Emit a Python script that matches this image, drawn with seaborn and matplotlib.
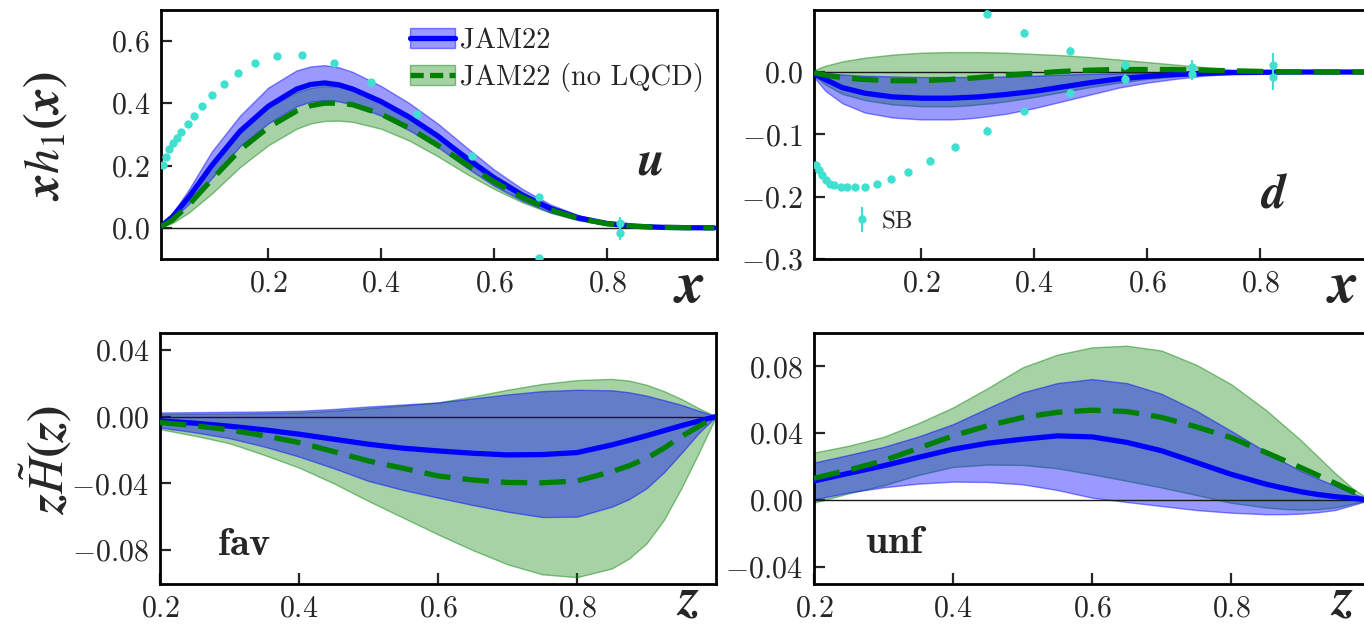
import matplotlib
matplotlib.use('Agg')
import matplotlib.pyplot as plt
import seaborn as sns
from matplotlib.patches import Patch
from matplotlib.lines import Line2D
from matplotlib.ticker import FuncFormatter

# ---- x grid (top panels) ----
x_grid = [0.01, 0.03, 0.06, 0.10, 0.15, 0.20, 0.25, 0.275, 0.30, 0.325, 0.35, 0.40, 0.45,
          0.50, 0.55, 0.60, 0.65, 0.70, 0.75, 0.80, 0.85, 0.90, 0.95, 0.99]

# u quark, JAM22
u_mid = [0.005, 0.035, 0.100, 0.200, 0.310, 0.390, 0.445, 0.460, 0.465, 0.459, 0.445, 0.405, 0.355,
         0.295, 0.225, 0.160, 0.105, 0.062, 0.032, 0.014, 0.005, 0.0015, 0.0003, 0.0]
u_hi = [0.007, 0.045, 0.125, 0.245, 0.360, 0.450, 0.505, 0.518, 0.522, 0.515, 0.500, 0.455, 0.400,
        0.335, 0.260, 0.187, 0.125, 0.075, 0.040, 0.018, 0.007, 0.002, 0.0005, 0.0]
u_lo = [0.003, 0.027, 0.078, 0.160, 0.262, 0.335, 0.390, 0.405, 0.410, 0.406, 0.395, 0.360, 0.313,
        0.260, 0.195, 0.135, 0.087, 0.050, 0.025, 0.010, 0.003, 0.001, 0.0001, 0.0]
# u quark, no LQCD
u_mid_nl = [0.004, 0.025, 0.075, 0.155, 0.250, 0.322, 0.375, 0.392, 0.400, 0.400, 0.395, 0.365, 0.320,
            0.265, 0.205, 0.148, 0.098, 0.058, 0.030, 0.013, 0.005, 0.0015, 0.0003, 0.0]
u_hi_nl = [0.006, 0.035, 0.100, 0.200, 0.305, 0.385, 0.435, 0.449, 0.455, 0.453, 0.445, 0.410, 0.360,
           0.300, 0.235, 0.170, 0.115, 0.068, 0.036, 0.016, 0.006, 0.002, 0.0004, 0.0]
u_lo_nl = [0.002, 0.015, 0.050, 0.110, 0.195, 0.265, 0.318, 0.335, 0.343, 0.344, 0.340, 0.318, 0.280,
           0.230, 0.175, 0.125, 0.082, 0.048, 0.024, 0.010, 0.003, 0.001, 0.0001, 0.0]

# d quark, JAM22
d_mid = [-0.003, -0.012, -0.025, -0.034, -0.040, -0.042, -0.042, -0.041, -0.040, -0.038, -0.036, -0.031, -0.024,
         -0.017, -0.011, -0.007, -0.004, -0.002, -0.001, -0.0005, 0.0, 0.0, 0.0, 0.0]
d_hi = [0.0, -0.002, -0.004, -0.006, -0.007, -0.008, -0.008, -0.008, -0.008, -0.0075, -0.007, -0.006, -0.004,
        -0.003, -0.002, -0.001, -0.0005, 0.0, 0.0, 0.0, 0.0, 0.0, 0.0, 0.0]
d_lo = [-0.008, -0.030, -0.050, -0.065, -0.073, -0.076, -0.076, -0.075, -0.073, -0.070, -0.067, -0.058, -0.047,
        -0.036, -0.025, -0.017, -0.011, -0.006, -0.003, -0.0012, -0.0004, -0.0001, 0.0, 0.0]
# d quark, no LQCD
d_mid_nl = [-0.001, -0.005, -0.009, -0.012, -0.014, -0.014, -0.012, -0.0105, -0.009, -0.007, -0.005, -0.002, 0.001,
            0.003, 0.004, 0.004, 0.004, 0.003, 0.002, 0.001, 0.0003, 0.0, 0.0, 0.0]
d_hi_nl = [0.003, 0.010, 0.017, 0.023, 0.028, 0.031, 0.032, 0.032, 0.032, 0.0315, 0.031, 0.029, 0.027,
           0.024, 0.020, 0.016, 0.012, 0.008, 0.004, 0.0015, 0.0005, 0.0001, 0.0, 0.0]
d_lo_nl = [-0.005, -0.020, -0.035, -0.045, -0.052, -0.055, -0.055, -0.054, -0.052, -0.050, -0.047, -0.040, -0.032,
           -0.024, -0.017, -0.011, -0.007, -0.004, -0.002, -0.001, 0.0, 0.0, 0.0, 0.0]

# SB points
sb_x = [0.013, 0.018, 0.024, 0.031, 0.038, 0.046, 0.057, 0.069, 0.083, 0.100, 0.122,
        0.147, 0.177, 0.215, 0.260, 0.316, 0.382, 0.464, 0.561, 0.680, 0.823]
sb_u = [0.201, 0.228, 0.253, 0.271, 0.287, 0.308, 0.332, 0.360, 0.392, 0.426, 0.461,
        0.498, 0.529, 0.551, 0.554, 0.530, 0.468, 0.365, 0.231, 0.098, 0.014]
sb_d = [-0.149, -0.157, -0.166, -0.174, -0.179, -0.182, -0.184, -0.185, -0.185, -0.184, -0.179,
        -0.172, -0.160, -0.142, -0.121, -0.094, -0.063, -0.034, -0.011, -0.003, -0.0085]
sb_err = [0.003, 0.003, 0.003, 0.003, 0.003, 0.003, 0.003, 0.003, 0.003, 0.004, 0.004,
          0.004, 0.004, 0.005, 0.005, 0.006, 0.006, 0.006, 0.008, 0.010, 0.020]
sb_u2_x = [0.680, 0.823]
sb_u2 = [-0.098, -0.018]
sb_d2_x = [0.316, 0.382, 0.464, 0.561, 0.680, 0.823]
sb_d2 = [0.093, 0.063, 0.034, 0.012, 0.0087, 0.011]
sb_d2_err = [0.006, 0.006, 0.006, 0.008, 0.010, 0.020]

# ---- z grid (bottom panels) ----
z_grid = [0.20, 0.25, 0.30, 0.35, 0.40, 0.45, 0.50, 0.55, 0.60, 0.65, 0.70,
          0.75, 0.80, 0.85, 0.875, 0.90, 0.925, 0.95, 0.975, 1.0]

fav_mid = [-0.0026, -0.004, -0.0058, -0.008, -0.0106, -0.0136, -0.0166, -0.019, -0.0206, -0.022, -0.023,
           -0.0228, -0.0216, -0.017, -0.0143, -0.0115, -0.0085, -0.0055, -0.0028, 0.0]
fav_hi = [0.0024, 0.0026, 0.0028, 0.003, 0.0034, 0.0045, 0.006, 0.0072, 0.0084, 0.0108, 0.0132,
          0.0152, 0.016, 0.0157, 0.0145, 0.0125, 0.0098, 0.007, 0.0035, 0.0]
fav_lo = [-0.0066, -0.0095, -0.013, -0.018, -0.024, -0.031, -0.0386, -0.044, -0.0486, -0.053, -0.057,
          -0.0602, -0.060, -0.054, -0.0495, -0.043, -0.0335, -0.022, -0.010, 0.0]
fav_mid_nl = [-0.0036, -0.0055, -0.008, -0.0115, -0.0156, -0.021, -0.0266, -0.031, -0.0356, -0.038, -0.0395,
              -0.0397, -0.0386, -0.033, -0.0295, -0.025, -0.019, -0.012, -0.006, 0.0]
fav_hi_nl = [0.0014, 0.0016, 0.0018, 0.002, 0.0024, 0.0035, 0.005, 0.0066, 0.0084, 0.012, 0.016,
             0.0195, 0.0218, 0.0225, 0.0215, 0.019, 0.0152, 0.0105, 0.005, 0.0]
fav_lo_nl = [-0.0076, -0.0115, -0.016, -0.023, -0.0306, -0.040, -0.0506, -0.0606, -0.0706, -0.080, -0.0885,
             -0.0945, -0.0962, -0.091, -0.085, -0.076, -0.062, -0.043, -0.022, 0.0]

unf_mid = [0.0114, 0.016, 0.0205, 0.0255, 0.0304, 0.034, 0.0364, 0.0384, 0.0378, 0.0345, 0.0295,
           0.0225, 0.0154, 0.0095, 0.0072, 0.005, 0.0033, 0.002, 0.001, 0.0]
unf_hi = [0.0224, 0.027, 0.0318, 0.038, 0.0454, 0.055, 0.0644, 0.070, 0.0724, 0.070, 0.0636,
          0.0535, 0.0414, 0.029, 0.023, 0.0175, 0.0128, 0.0085, 0.004, 0.0]
unf_lo = [0.0004, 0.0045, 0.0076, 0.0098, 0.011, 0.0108, 0.0094, 0.006, 0.0014, -0.0012, -0.0036,
          -0.006, -0.0076, -0.0085, -0.0085, -0.0082, -0.0073, -0.006, -0.003, 0.0]
unf_mid_nl = [0.013, 0.018, 0.0235, 0.031, 0.0384, 0.0445, 0.0494, 0.0525, 0.0538, 0.053, 0.0495,
              0.0438, 0.0374, 0.0285, 0.024, 0.0195, 0.0148, 0.010, 0.005, 0.0]
unf_hi_nl = [0.0284, 0.0325, 0.0378, 0.046, 0.0554, 0.067, 0.0794, 0.087, 0.0914, 0.0924, 0.0895,
             0.081, 0.0694, 0.054, 0.045, 0.036, 0.026, 0.016, 0.007, 0.0]
unf_lo_nl = [-0.0016, 0.004, 0.0088, 0.015, 0.0198, 0.0212, 0.021, 0.019, 0.0154, 0.0115, 0.0075,
             0.003, -0.0016, -0.0045, -0.0053, -0.0058, -0.0055, -0.0045, -0.0022, 0.0]

sns.set_theme(style='ticks')
plt.rcParams['font.family'] = ['cmr10', 'DejaVu Serif']
plt.rcParams['mathtext.fontset'] = 'cm'
plt.rcParams['axes.formatter.use_mathtext'] = True
plt.rcParams['axes.unicode_minus'] = True

BLUE = '#0000ff'
GREEN = '#008000'
SB_COL = '#40e0d0'
DASH = (0, (5, 2.3))

fig = plt.figure(figsize=(13.64, 6.24), dpi=100)
W = 556 / 1364
ax_u = fig.add_axes([161 / 1364, 1 - 259 / 624, W, 249.3 / 624])
ax_d = fig.add_axes([814 / 1364, 1 - 259 / 624, W, 249.3 / 624])
ax_f = fig.add_axes([160 / 1364, 1 - 583.5 / 624, W, 250.5 / 624])
ax_n = fig.add_axes([814 / 1364, 1 - 583.5 / 624, W, 250.5 / 624])


def draw_bands(ax, xg, mid, lo, hi, mid_nl, lo_nl, hi_nl):
    ax.fill_between(xg, lo_nl, hi_nl, facecolor=(0, 0.5, 0, 0.35),
                    edgecolor=(0, 0.5, 0, 0.45), lw=1.0, zorder=1)
    ax.fill_between(xg, lo, hi, facecolor=(0, 0, 1, 0.4),
                    edgecolor=(0, 0, 1, 0.45), lw=1.0, zorder=1.1)
    ax.axhline(0, color='k', lw=1.0, zorder=1.5)
    sns.lineplot(x=xg, y=mid, ax=ax, color=BLUE, lw=3.8, zorder=3)
    sns.lineplot(x=xg, y=mid_nl, ax=ax, color=GREEN, lw=3.8, linestyle=DASH, zorder=3.1)


def style(ax, xlim, ylim, yticks, fmt):
    ax.set_xlim(*xlim)
    ax.set_ylim(*ylim)
    ax.set_xticks([0.2, 0.4, 0.6, 0.8])
    ax.set_yticks(yticks)
    ax.xaxis.set_major_formatter(FuncFormatter(lambda v, p: '$%.1f$' % v))
    ax.yaxis.set_major_formatter(FuncFormatter(lambda v, p: '$' + (fmt % v).replace('-0.00', '0.00') + '$'))
    ax.tick_params(direction='in', length=8, width=1.6, labelsize=21.5, pad=8,
                   top=False, right=False)
    for s in ax.spines.values():
        s.set_linewidth(2.0)
        s.set_color('black')


draw_bands(ax_u, x_grid, u_mid, u_lo, u_hi, u_mid_nl, u_lo_nl, u_hi_nl)
draw_bands(ax_d, x_grid, d_mid, d_lo, d_hi, d_mid_nl, d_lo_nl, d_hi_nl)
draw_bands(ax_f, z_grid, fav_mid, fav_lo, fav_hi, fav_mid_nl, fav_lo_nl, fav_hi_nl)
draw_bands(ax_n, z_grid, unf_mid, unf_lo, unf_hi, unf_mid_nl, unf_lo_nl, unf_hi_nl)

# SB points
ax_u.errorbar(sb_x, sb_u, yerr=sb_err, fmt='o', color=SB_COL, ms=5, elinewidth=1.5, capsize=0, zorder=4)
ax_u.errorbar(sb_u2_x, sb_u2, yerr=sb_err[-2:], fmt='o', color=SB_COL, ms=5, elinewidth=1.5, capsize=0, zorder=4)
sb_h = ax_d.errorbar(sb_x, sb_d, yerr=sb_err, fmt='o', color=SB_COL, ms=5, elinewidth=1.5, capsize=0, zorder=4)
ax_d.errorbar(sb_d2_x, sb_d2, yerr=sb_d2_err, fmt='o', color=SB_COL, ms=5, elinewidth=1.5, capsize=0, zorder=4)

style(ax_u, (0.01, 0.995), (-0.1, 0.7), [0.0, 0.2, 0.4, 0.6], '%.1f')
style(ax_d, (0.01, 0.995), (-0.3, 0.1), [-0.3, -0.2, -0.1, 0.0], '%.1f')
style(ax_f, (0.2, 1.0), (-0.1, 0.05), [-0.08, -0.04, 0.0, 0.04], '%.2f')
style(ax_n, (0.2, 1.0), (-0.05, 0.1), [-0.04, 0.0, 0.04, 0.08], '%.2f')
for ax in (ax_u, ax_d, ax_f, ax_n):
    ax.set_xlabel('')
    ax.set_ylabel('')

# legends
h_jam = (Patch(facecolor=(0, 0, 1, 0.4), edgecolor=(0, 0, 1, 0.45)), Line2D([], [], color=BLUE, lw=3.8))
h_nl = (Patch(facecolor=(0, 0.5, 0, 0.35), edgecolor=(0, 0.5, 0, 0.45)),
        Line2D([], [], color=GREEN, lw=3.8, linestyle=(0, (2.5, 1.2))))
ax_u.legend([h_jam, h_nl], ['JAM22', 'JAM22 (no LQCD)'], loc='center left',
            bbox_to_anchor=(0.448, 0.799), frameon=False, fontsize=20.5,
            borderpad=0, borderaxespad=0,
            handlelength=1.58, handleheight=0.72, labelspacing=0.3, handletextpad=0.18)
ax_d.legend([sb_h], ['SB'], loc='center left', bbox_to_anchor=(0.068, 0.149),
            frameon=False, fontsize=18, borderpad=0, borderaxespad=0,
            handlelength=0.8, handletextpad=0.4)

# panel labels
ax_u.text(0.88, 0.387, r'$\boldsymbol{u}$', transform=ax_u.transAxes, fontsize=35,
          ha='center', va='center', math_fontfamily='stix')
ax_d.text(0.827, 0.257, r'$\boldsymbol{d}$', transform=ax_d.transAxes, fontsize=35,
          ha='center', va='center', math_fontfamily='stix')
ax_f.text(0.151, 0.154, r'$\mathbf{fav}$', transform=ax_f.transAxes, fontsize=29,
          ha='center', va='center')
ax_n.text(0.149, 0.162, r'$\mathbf{unf}$', transform=ax_n.transAxes, fontsize=29,
          ha='center', va='center')

# axis labels
for ax, lab, yy, fs in ((ax_u, 'x', -0.116, 42), (ax_d, 'x', -0.116, 42),
                        (ax_f, 'z', -0.068, 38), (ax_n, 'z', -0.068, 38)):
    ax.text(0.95, yy, r'$\boldsymbol{%s}$' % lab, transform=ax.transAxes, fontsize=fs,
            ha='center', va='center', math_fontfamily='stix')
fig.text(46 / 1364, 1 - 136 / 624, r'$\boldsymbol{xh_1(x)}$', rotation=90, fontsize=36,
         ha='center', va='center', math_fontfamily='stix')
fig.text(46 / 1364, 1 - 460 / 624, r'$\boldsymbol{z\tilde{H}(z)}$', rotation=90, fontsize=36,
         ha='center', va='center', math_fontfamily='stix')

fig.savefig('out.png', dpi=100)
